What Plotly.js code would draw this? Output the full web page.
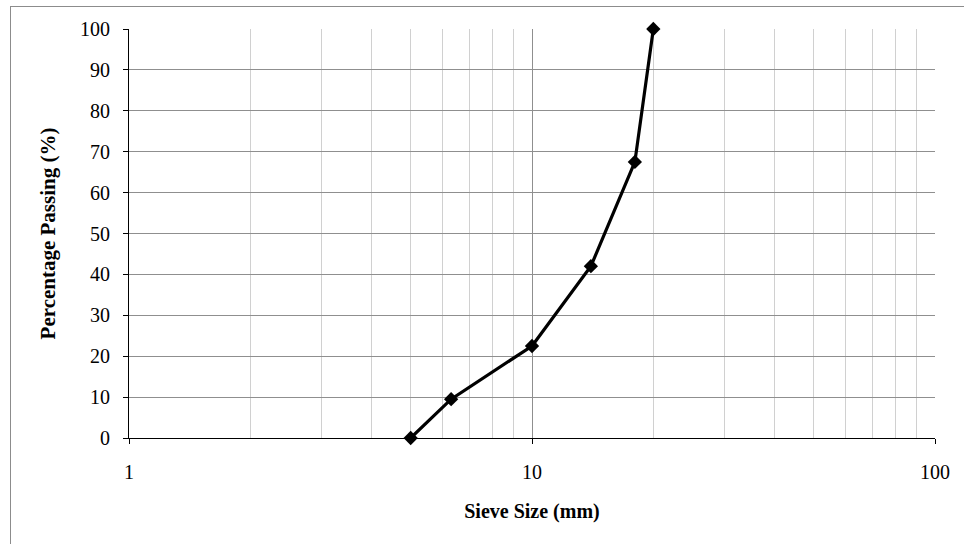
<!DOCTYPE html>
<html>
<head>
<meta charset="utf-8">
<script src="https://cdn.plot.ly/plotly-3.0.1.min.js"></script>
<style>
  html, body { margin: 0; padding: 0; background: #ffffff; overflow: hidden; }
  #chart { position: absolute; left: 0; top: 0; width: 964px; height: 544px; }
  #frame { position: absolute; left: 10px; top: 6px; width: 1000px; height: 600px;
           border-left: 1px solid #8c8c8c; border-top: 1px solid #8c8c8c; pointer-events: none; }
</style>
</head>
<body>
<div id="chart"></div>
<div id="frame"></div>
<script>
// Grading curve: sieve opening (mm) vs cumulative percentage passing
const sieveSize = [5, 6.3, 10, 14, 18, 20];
const percentPassing = [0, 9.5, 22.5, 42, 67.5, 100];

const xTickVals = [1, 10, 100];
const xTickText = ['1', '10', '100'];

const serif = 'Liberation Serif, Times New Roman, serif';

const trace = {
  x: sieveSize,
  y: percentPassing,
  type: 'scatter',
  mode: 'lines+markers',
  cliponaxis: false,
  line: { color: '#000000', width: 3.2 },
  marker: { symbol: 'diamond', size: 11, color: '#000000' },
  hoverinfo: 'x+y',
  showlegend: false
};

const layout = {
  width: 964,
  height: 544,
  margin: { l: 129, r: 29, t: 29, b: 106 },
  paper_bgcolor: '#ffffff',
  plot_bgcolor: '#ffffff',
  font: { family: serif, color: '#000000', size: 20 },
  xaxis: {
    type: 'log',
    range: [0, 2],
    tickmode: 'array',
    tickvals: xTickVals,
    ticktext: xTickText,
    ticks: 'outside',
    ticklen: 5,
    tickcolor: '#000000',
    showline: true,
    linecolor: '#000000',
    linewidth: 1,
    showgrid: true,
    gridcolor: '#8f8f8f',
    gridwidth: 1,
    zeroline: false,
    ticklabelstandoff: 11,
    tickfont: { family: serif, size: 20, color: '#000000' },
    minor: { dtick: 'D1', showgrid: true, gridcolor: '#d0d0d0', gridwidth: 1, ticks: '' },
    title: { text: '<b>Sieve Size (mm)</b>', font: { family: serif, size: 20, color: '#000000' }, standoff: 21 }
  },
  yaxis: {
    range: [0, 100],
    dtick: 10,
    tick0: 0,
    ticks: 'outside',
    ticklen: 5,
    tickcolor: '#000000',
    showline: true,
    linecolor: '#000000',
    linewidth: 1,
    showgrid: true,
    gridcolor: '#8f8f8f',
    gridwidth: 1,
    zeroline: false,
    ticklabelstandoff: 9,
    tickfont: { family: serif, size: 20, color: '#000000' },
    title: { text: '<b>Percentage Passing (%)</b>', font: { family: serif, size: 21, color: '#000000' }, standoff: 18 }
  }
};

Plotly.newPlot('chart', [trace], layout, { staticPlot: true, displayModeBar: false });
</script>
</body>
</html>
